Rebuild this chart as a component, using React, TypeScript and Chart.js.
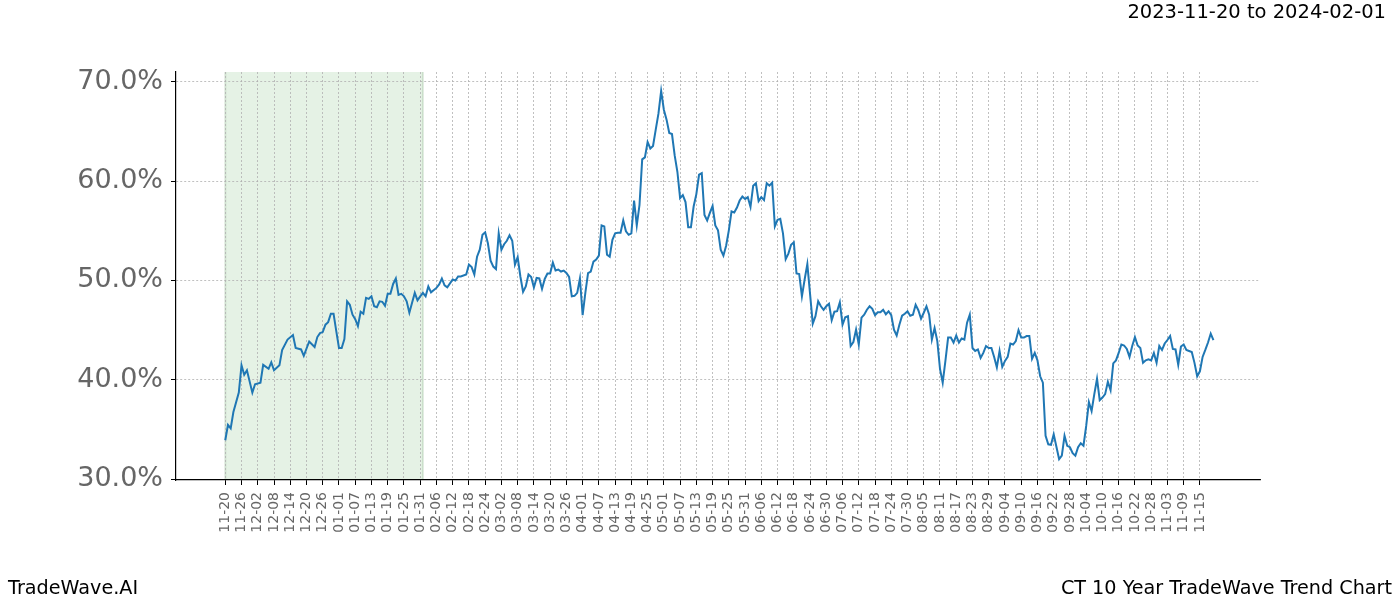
import React, { useEffect, useRef } from "react";
import { Chart, registerables } from "chart.js";

Chart.register(...registerables);

const titleRange = "2023-11-20 to 2024-02-01";
const brandText = "TradeWave.AI";
const chartTitle = "CT 10 Year TradeWave Trend Chart";

const tickLabels = [
  "11-20", "11-26", "12-02", "12-08", "12-14", "12-20", "12-26", "01-01", "01-07", "01-13",
  "01-19", "01-25", "01-31", "02-06", "02-12", "02-18", "02-24", "03-02", "03-08", "03-14",
  "03-20", "03-26", "04-01", "04-07", "04-13", "04-19", "04-25", "05-01", "05-07", "05-13",
  "05-19", "05-25", "05-31", "06-06", "06-12", "06-18", "06-24", "06-30", "07-06", "07-12",
  "07-18", "07-24", "07-30", "08-05", "08-11", "08-17", "08-23", "08-29", "09-04", "09-10",
  "09-16", "09-22", "09-28", "10-04", "10-10", "10-16", "10-22", "10-28", "11-03", "11-09",
  "11-15",
];
const tickStepDays = 6;
const yTickValues = [30, 40, 50, 60, 70];
const shadeStartDay = 0;
const shadeEndDay = 73;

const dayOffsets = [
  0, 1, 2, 3, 5, 6, 7, 8, 10, 11, 13, 14, 16, 17, 18, 20, 21, 23, 25, 26, 28, 29, 31, 33, 34,
  35, 36, 37, 38, 39, 40, 41, 42, 43, 44, 45, 46, 47, 48, 49, 50, 51, 52, 53, 54, 55, 56, 57,
  58, 59, 60, 61, 62, 63, 64, 65, 66, 67, 68, 69, 70, 71, 72, 73, 74, 75, 76, 78, 79, 80, 81,
  82, 84, 85, 86, 87, 89, 90, 91, 92, 93, 94, 95, 96, 97, 98, 99, 100, 101, 102, 103, 104, 105,
  106, 107, 108, 109, 110, 111, 112, 113, 114, 115, 116, 117, 118, 119, 120, 121, 122, 123, 124,
  125, 126, 127, 128, 129, 130, 131, 132, 133, 134, 135, 136, 137, 138, 139, 140, 141, 142, 143,
  144, 145, 146, 147, 148, 149, 150, 151, 152, 153, 154, 155, 156, 157, 158, 159, 160, 161, 162,
  163, 164, 165, 166, 167, 168, 169, 170, 171, 172, 173, 174, 175, 176, 177, 178, 179, 180, 181,
  182, 183, 184, 185, 186, 187, 188, 189, 190, 191, 192, 193, 194, 195, 196, 197, 198, 199, 200,
  201, 202, 203, 204, 205, 206, 207, 208, 209, 210, 211, 212, 213, 214, 215, 217, 218, 219, 220,
  221, 222, 223, 224, 225, 226, 227, 228, 229, 230, 231, 232, 233, 234, 235, 236, 237, 238, 239,
  240, 241, 242, 243, 244, 245, 246, 247, 248, 249, 250, 251, 252, 253, 254, 255, 256, 257, 258,
  259, 260, 261, 262, 263, 264, 265, 266, 267, 268, 269, 270, 271, 272, 273, 274, 275, 276, 277,
  278, 279, 280, 281, 282, 283, 284, 285, 286, 287, 288, 289, 290, 291, 292, 293, 294, 295, 296,
  297, 298, 299, 300, 301, 302, 303, 304, 305, 306, 307, 308, 309, 310, 311, 312, 313, 314, 315,
  316, 317, 318, 319, 320, 321, 322, 323, 324, 325, 326, 327, 328, 329, 330, 331, 332, 333, 334,
  335, 336, 337, 338, 339, 340, 341, 342, 343, 344, 345, 346, 347, 348, 349, 350, 351, 352, 353,
  354, 355, 356, 357, 358, 359, 360, 361, 362, 363, 364, 365,
];

const trendValues = [
  33.9, 35.45, 35.1, 36.75, 38.7, 41.45, 40.5, 40.95, 38.7, 39.55, 39.7, 41.5, 41.1, 41.75, 40.95,
  41.45, 43.0, 44.05, 44.5, 43.2, 43.05, 42.4, 43.85, 43.3, 44.3, 44.7, 44.8, 45.55, 45.8, 46.65,
  46.65, 44.9, 43.2, 43.2, 44.1, 47.9, 47.55, 46.55, 46.1, 45.4, 46.85, 46.65, 48.25, 48.15, 48.4,
  47.4, 47.3, 47.9, 47.85, 47.45, 48.65, 48.65, 49.65, 50.2, 48.55, 48.65, 48.4, 47.9, 46.75, 47.75,
  48.75, 48.0, 48.4, 48.75, 48.4, 49.4, 48.8, 49.25, 49.6, 50.2, 49.5, 49.3, 50.1, 50.0, 50.4,
  50.4, 50.6, 51.6, 51.35, 50.6, 52.4, 53.1, 54.6, 54.85, 53.75, 52.0, 51.4, 51.15, 54.75, 53.1,
  53.65, 54.0, 54.55, 54.0, 51.6, 52.35, 50.4, 48.85, 49.4, 50.6, 50.35, 49.3, 50.25, 50.2, 49.15,
  50.15, 50.7, 50.7, 51.8, 51.0, 51.1, 50.9, 51.0, 50.75, 50.35, 48.4, 48.45, 48.75, 50.2, 46.5,
  48.75, 50.75, 50.9, 51.9, 52.1, 52.5, 55.55, 55.45, 52.6, 52.4, 54.1, 54.75, 54.8, 54.8, 56.05,
  54.95, 54.6, 54.75, 58.05, 55.55, 57.6, 62.2, 62.4, 63.95, 63.3, 63.55, 65.2, 66.8, 69.1, 67.2,
  66.2, 64.85, 64.75, 62.6, 60.95, 58.3, 58.6, 57.9, 55.35, 55.35, 57.45, 58.7, 60.65, 60.8, 56.6,
  56.05, 56.8, 57.5, 55.55, 55.05, 53.1, 52.5, 53.5, 55.05, 56.95, 56.85, 57.35, 58.05, 58.45, 58.2,
  58.4, 57.4, 59.55, 59.8, 58.0, 58.4, 58.1, 59.8, 59.55, 59.85, 55.45, 56.1, 56.2, 54.75, 52.15,
  52.7, 53.6, 53.85, 50.7, 50.65, 48.4, 50.1, 51.65, 45.65, 46.4, 47.9, 47.4, 47.05, 47.4, 47.65,
  46.0, 46.85, 46.9, 47.8, 45.55, 46.3, 46.4, 43.4, 43.8, 45.05, 43.55, 46.25, 46.55, 47.05, 47.4,
  47.15, 46.5, 46.8, 46.8, 47.05, 46.6, 46.9, 46.5, 45.05, 44.45, 45.55, 46.45, 46.65, 46.9, 46.45,
  46.55, 47.55, 47.0, 46.15, 46.75, 47.4, 46.55, 44.05, 45.2, 43.9, 41.1, 39.7, 41.9, 44.25, 44.25,
  43.75, 44.45, 43.75, 44.15, 44.05, 45.75, 46.55, 43.2, 42.9, 43.05, 42.2, 42.7, 43.4, 43.2, 43.2,
  42.3, 41.25, 42.9, 41.3, 41.9, 42.3, 43.65, 43.55, 43.9, 45.0, 44.25, 44.25, 44.4, 44.4, 42.1,
  42.7, 41.95, 40.35, 39.7, 34.35, 33.5, 33.45, 34.5, 33.25, 32.0, 32.35, 34.35, 33.35, 33.2, 32.6,
  32.35, 33.2, 33.6, 33.35, 35.35, 37.75, 36.85, 38.55, 40.1, 37.95, 38.2, 38.55, 39.8, 38.95,
  41.65, 41.95, 42.7, 43.55, 43.45, 43.1, 42.3, 43.4, 44.3, 43.45, 43.2, 41.7, 41.95, 42.05, 41.95,
  42.7, 41.7, 43.4, 43.0, 43.65, 44.0, 44.4, 43.1, 43.05, 41.5, 43.35, 43.55, 43.0, 42.9, 42.8,
  41.7, 40.35, 40.85, 42.3, 43.0, 43.75, 44.65, 44.0,
];

const FONT = "'DejaVu Sans', 'Liberation Sans', sans-serif";

const shadePlugin = {
  id: "shadeBand",
  beforeDraw(chart: any) {
    const { ctx, chartArea, scales } = chart;
    const x = scales.x;
    const x0 = x.getPixelForValue(shadeStartDay);
    const x1 = x.getPixelForValue(shadeEndDay);
    ctx.save();
    ctx.fillStyle = "rgba(0,128,0,0.1)";
    ctx.fillRect(x0, chartArea.top, x1 - x0, chartArea.bottom - chartArea.top);
    ctx.strokeStyle = "rgba(0,90,0,0.13)";
    ctx.lineWidth = 2;
    ctx.beginPath();
    ctx.moveTo(x0, chartArea.top);
    ctx.lineTo(x0, chartArea.bottom);
    ctx.moveTo(x1, chartArea.top);
    ctx.lineTo(x1, chartArea.bottom);
    ctx.stroke();
    ctx.restore();
  },
};

export default function App() {
  const canvasRef = useRef<HTMLCanvasElement | null>(null);

  useEffect(() => {
    document.body.style.margin = "0";
    const canvas = canvasRef.current;
    if (!canvas) return;
    const points = dayOffsets.map((d, i) => ({ x: d, y: trendValues[i] }));
    const chart = new Chart(canvas, {
      type: "line",
      data: {
        datasets: [
          {
            data: points,
            borderColor: "#1f77b4",
            borderWidth: 2,
            pointRadius: 0,
            tension: 0,
            fill: false,
          },
        ],
      },
      options: {
        animation: false,
        responsive: false,
        devicePixelRatio: 1,
        layout: { padding: { top: 72, right: 140, left: 0, bottom: 0 } },
        plugins: { legend: { display: false }, tooltip: { enabled: false } },
        scales: {
          x: {
            type: "linear",
            min: -18.2,
            max: 382.2,
            afterFit: (scale: any) => {
              scale.height = 120;
            },
            afterBuildTicks: (scale: any) => {
              scale.ticks = tickLabels.map((_, i) => ({ value: i * tickStepDays }));
            },
            ticks: {
              autoSkip: false,
              minRotation: 90,
              maxRotation: 90,
              padding: 7,
              color: "#666666",
              font: { family: FONT, size: 14 },
              callback: (value: any) => tickLabels[Math.round(Number(value) / tickStepDays)] ?? "",
            },
            grid: {
              color: "#b0b0b0",
              lineWidth: 0.8,
              drawTicks: true,
              tickLength: 5,
              tickColor: "#000000",
              tickWidth: 1,
            },
            border: { display: true, color: "#000000", width: 1.2, dash: [2, 2] },
          },
          y: {
            type: "linear",
            min: 29.9,
            max: 71.0,
            afterFit: (scale: any) => {
              scale.width = 176;
            },
            afterBuildTicks: (scale: any) => {
              scale.ticks = yTickValues.map((v) => ({ value: v }));
            },
            ticks: {
              padding: 8,
              color: "#666666",
              font: { family: FONT, size: 27 },
              callback: (value: any) => Number(value).toFixed(1) + "%",
            },
            grid: {
              color: "#b0b0b0",
              lineWidth: 0.8,
              drawTicks: true,
              tickLength: 5,
              tickColor: "#000000",
              tickWidth: 1,
            },
            border: { display: true, color: "#000000", width: 1.2, dash: [2, 2] },
          },
        },
      },
      plugins: [shadePlugin],
    } as any);
    return () => chart.destroy();
  }, []);

  const textStyle: React.CSSProperties = {
    position: "absolute",
    fontFamily: FONT,
    fontSize: 19.5,
    lineHeight: "22px",
    color: "#000",
    whiteSpace: "nowrap",
  };

  return (
    <div style={{ position: "absolute", left: 0, top: 0, width: 1400, height: 600, background: "#fff" }}>
      <canvas ref={canvasRef} width={1400} height={600} style={{ position: "absolute", left: 0, top: 0 }} />
      <div style={{ ...textStyle, right: 14, top: 1 }}>{titleRange}</div>
      <div style={{ ...textStyle, fontSize: 19.2, left: 8, top: 577 }}>{brandText}</div>
      <div style={{ ...textStyle, fontSize: 19.2, right: 8, top: 577 }}>{chartTitle}</div>
    </div>
  );
}
